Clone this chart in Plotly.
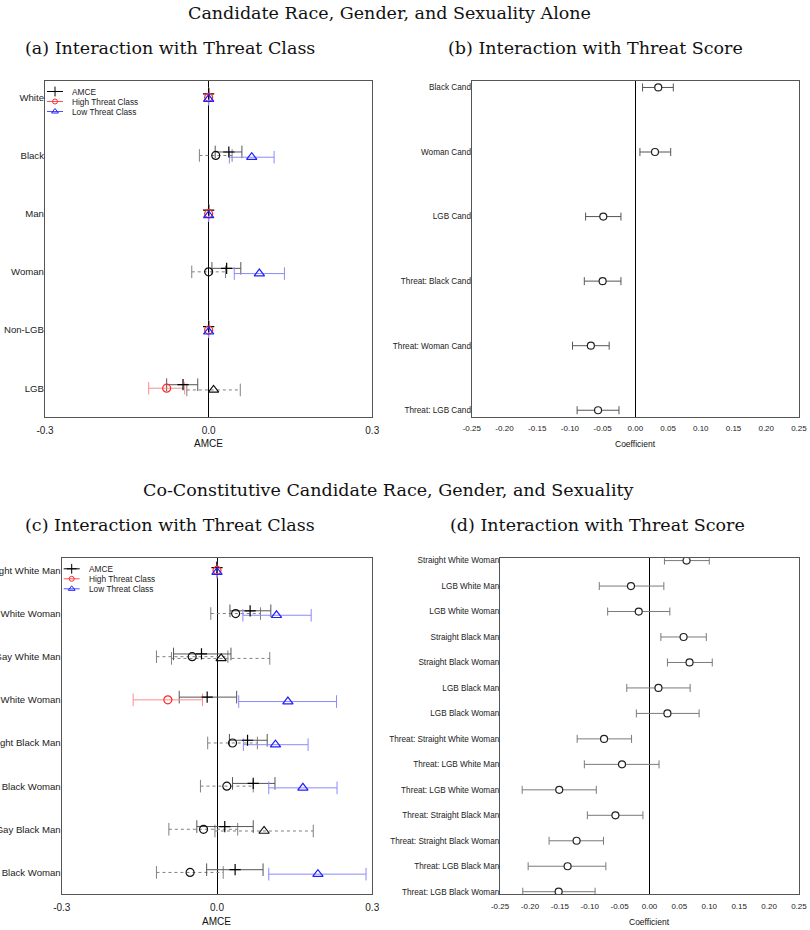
import plotly.graph_objects as go

# ---------------- data ----------------
# Panel (a): Interaction with Threat Class (attributes alone)
cats_a = ["White", "Black", "Man", "Woman", "Non-LGB", "LGB"]
amce_a = [0.0, 0.037, 0.0, 0.033, 0.0, -0.047]
amce_a_lo = [0.0, 0.012, 0.0, 0.006, 0.0, -0.077]
amce_a_hi = [0.0, 0.061, 0.0, 0.059, 0.0, -0.020]
high_a = [0.0, 0.013, 0.0, 0.000, 0.0, -0.077]
high_a_lo = [0.0, -0.017, 0.0, -0.031, 0.0, -0.110]
high_a_hi = [0.0, 0.043, 0.0, 0.031, 0.0, -0.044]
low_a = [0.0, 0.079, 0.0, 0.093, 0.0, 0.009]
low_a_lo = [0.0, 0.038, 0.0, 0.047, 0.0, -0.040]
low_a_hi = [0.0, 0.120, 0.0, 0.139, 0.0, 0.058]

# Panel (b): Interaction with Threat Score (attributes alone)
cats_b = ["Black Cand", "Woman Cand", "LGB Cand",
          "Threat: Black Cand", "Threat: Woman Cand", "Threat: LGB Cand"]
coef_b = [0.035, 0.030, -0.049, -0.050, -0.068, -0.057]
coef_b_lo = [0.011, 0.007, -0.076, -0.078, -0.096, -0.089]
coef_b_hi = [0.058, 0.054, -0.022, -0.022, -0.040, -0.025]

# Panel (c): Interaction with Threat Class (co-constitutive)
cats_c = ["Straight White Man", "Straight White Woman", "Gay White Man",
          "Lesbian White Woman", "Straight Black Man", "Straight Black Woman",
          "Gay Black Man", "Lesbian Black Woman"]
amce_c = [0.0, 0.064, -0.030, -0.019, 0.059, 0.070, 0.015, 0.035]
amce_c_lo = [0.0, 0.025, -0.084, -0.073, 0.024, 0.030, -0.039, -0.020]
amce_c_hi = [0.0, 0.104, 0.027, 0.038, 0.097, 0.112, 0.070, 0.089]
high_c = [0.0, 0.036, -0.048, -0.095, 0.030, 0.019, -0.026, -0.052]
high_c_lo = [0.0, -0.012, -0.117, -0.162, -0.018, -0.032, -0.093, -0.117]
high_c_hi = [0.0, 0.084, 0.021, -0.028, 0.078, 0.070, 0.040, 0.012]
low_c = [0.0, 0.115, 0.008, 0.137, 0.113, 0.166, 0.091, 0.195]
low_c_lo = [0.0, 0.050, -0.088, 0.042, 0.051, 0.100, -0.004, 0.100]
low_c_hi = [0.0, 0.182, 0.102, 0.231, 0.176, 0.232, 0.186, 0.288]

# Panel (d): Interaction with Threat Score (co-constitutive)
cats_d = ["Straight White Woman", "LGB White Man", "LGB White Woman",
          "Straight Black Man", "Straight Black Woman", "LGB Black Man",
          "LGB Black Woman", "Threat: Straight White Woman",
          "Threat: LGB White Man", "Threat: LGB White Woman",
          "Threat: Straight Black Man", "Threat: Straight Black Woman",
          "Threat: LGB Black Man", "Threat: LGB Black Woman"]
coef_d = [0.062, -0.031, -0.018, 0.057, 0.067, 0.015, 0.030,
          -0.076, -0.046, -0.151, -0.057, -0.122, -0.137, -0.152]
coef_d_lo = [0.025, -0.084, -0.070, 0.019, 0.030, -0.038, -0.022,
             -0.121, -0.109, -0.213, -0.104, -0.168, -0.203, -0.212]
coef_d_hi = [0.100, 0.024, 0.034, 0.095, 0.105, 0.068, 0.083,
             -0.030, 0.016, -0.089, -0.011, -0.077, -0.073, -0.091]

class_ticks = [-0.3, 0.0, 0.3]
class_ticktext = ["-0.3", "0.0", "0.3"]
score_ticks = [-0.25, -0.20, -0.15, -0.10, -0.05, 0.0, 0.05, 0.10, 0.15, 0.20, 0.25]

legend_labels = ["AMCE", "High Threat Class", "Low Threat Class"]
title_top = "Candidate Race, Gender, and Sexuality Alone"
title_bottom = "Co-Constitutive Candidate Race, Gender, and Sexuality"
subtitles = ["(a) Interaction with Threat Class", "(b) Interaction with Threat Score",
             "(c) Interaction with Threat Class", "(d) Interaction with Threat Score"]

# ---------------- layout helpers ----------------
W, H = 810, 930
SANS = "Liberation Sans, Arial, sans-serif"
SERIF = "DejaVu Serif, serif"


def dx(a, b):
    return [a / W, b / W]


def dy(top, bottom):
    return [1 - bottom / H, 1 - top / H]


PANEL = {
    "a": dict(x=(45, 372.3), y=(81, 417.3)),
    "b": dict(x=(471.7, 799), y=(81, 416.7)),
    "c": dict(x=(61.7, 372.3), y=(558.3, 894)),
    "d": dict(x=(500, 799), y=(558.3, 894)),
}

fig = go.Figure()

RED_LINE = "#ff8a8a"
RED_MK = "#ff2a2a"
BLUE_LINE = "#8a8aff"
BLUE_MK = "#2020ff"
GRAY_SOLID = "#555555"
GRAY_DASH = "#808080"


def insignificant(lo, hi):
    return lo < 0 < hi


def ci_traces(xa, ya, lo, hi, ys, color, dash, cap):
    xs, yy, cx, cy = [], [], [], []
    for l, h, y in zip(lo, hi, ys):
        xs += [l, h, None]
        yy += [y, y, None]
        cx += [l, h]
        cy += [y, y]
    if not cx:
        return
    fig.add_trace(go.Scatter(x=xs, y=yy, mode="lines", xaxis=xa, yaxis=ya,
                             line=dict(color=color, width=1, dash=dash),
                             hoverinfo="skip", showlegend=False))
    fig.add_trace(go.Scatter(x=cx, y=cy, mode="markers", xaxis=xa, yaxis=ya,
                             marker=dict(symbol="line-ns-open", size=cap, color=color,
                                         line=dict(color=color, width=1)),
                             hoverinfo="skip", showlegend=False))


def class_panel(xa, ya, amce, amce_lo, amce_hi, high, high_lo, high_hi,
                low, low_lo, low_hi, off_amce, off_low):
    n = len(amce)
    pos = list(range(n))
    y_amce = [p + off_amce for p in pos]
    y_high = pos
    y_low = [p + off_low for p in pos]
    sig_h = [i for i in pos if not insignificant(high_lo[i], high_hi[i])]
    ns_h = [i for i in pos if insignificant(high_lo[i], high_hi[i])]
    sig_l = [i for i in pos if not insignificant(low_lo[i], low_hi[i])]
    ns_l = [i for i in pos if insignificant(low_lo[i], low_hi[i])]
    ci_traces(xa, ya, [high_lo[i] for i in ns_h], [high_hi[i] for i in ns_h],
              [y_high[i] for i in ns_h], GRAY_DASH, "3px,3px", 9)
    ci_traces(xa, ya, [low_lo[i] for i in ns_l], [low_hi[i] for i in ns_l],
              [y_low[i] for i in ns_l], GRAY_DASH, "3px,3px", 9)
    # AMCE: always solid
    ci_traces(xa, ya, amce_lo, amce_hi, y_amce, GRAY_SOLID, "solid", 9)
    ci_traces(xa, ya, [high_lo[i] for i in sig_h], [high_hi[i] for i in sig_h],
              [y_high[i] for i in sig_h], RED_LINE, "solid", 9)
    ci_traces(xa, ya, [low_lo[i] for i in sig_l], [low_hi[i] for i in sig_l],
              [y_low[i] for i in sig_l], BLUE_LINE, "solid", 9)
    # markers
    fig.add_trace(go.Scatter(x=amce, y=y_amce, mode="markers", xaxis=xa, yaxis=ya,
                             marker=dict(symbol="cross-thin-open", size=8, color="black",
                                         line=dict(color="black", width=1.2)),
                             showlegend=False))
    hc = [RED_MK if i in sig_h else "#111111" for i in pos]
    lc = [BLUE_MK if i in sig_l else "#111111" for i in pos]
    fig.add_trace(go.Scatter(x=high, y=y_high, mode="markers", xaxis=xa, yaxis=ya,
                             marker=dict(symbol="circle-open", size=8,
                                         color=hc, line=dict(color=hc, width=1.2)),
                             showlegend=False))
    fig.add_trace(go.Scatter(x=low, y=y_low, mode="markers", xaxis=xa, yaxis=ya,
                             marker=dict(symbol="triangle-up-open", size=9,
                                         color=lc, line=dict(color=lc, width=1.2)),
                             showlegend=False))


def score_panel(xa, ya, coef, lo, hi, err_color):
    pos = list(range(len(coef)))
    fig.add_trace(go.Scatter(
        x=coef, y=pos, mode="markers", xaxis=xa, yaxis=ya, showlegend=False,
        marker=dict(symbol="circle", size=7, color="white",
                    line=dict(color="#222222", width=1.2)),
        error_x=dict(type="data", symmetric=False,
                     array=[h - c for h, c in zip(hi, coef)],
                     arrayminus=[c - l for c, l in zip(coef, lo)],
                     color=err_color, thickness=1, width=4)))


class_panel("x", "y", amce_a, amce_a_lo, amce_a_hi, high_a, high_a_lo, high_a_hi,
            low_a, low_a_lo, low_a_hi, -0.06, 0.03)
score_panel("x2", "y2", coef_b, coef_b_lo, coef_b_hi, "#555555")
class_panel("x3", "y3", amce_c, amce_c_lo, amce_c_hi, high_c, high_c_lo, high_c_hi,
            low_c, low_c_lo, low_c_hi, -0.063, 0.04)
score_panel("x4", "y4", coef_d, coef_d_lo, coef_d_hi, "#7a7a7a")

# ---------------- legends (drawn on pixel overlay axes) ----------------
leg_styles = [
    dict(line="black", mk="black", sym="cross-thin-open", size=7),
    dict(line="#ff5050", mk="#ff2a2a", sym="circle-open", size=5),
    dict(line="#5050ff", mk="#2020ff", sym="triangle-up-open", size=6),
]
for xa, ya in (("x5", "y5"), ("x6", "y6")):
    for k, (lab, st) in enumerate(zip(legend_labels, leg_styles)):
        yy = 10.5 + 10 * k
        fig.add_trace(go.Scatter(x=[2, 18], y=[yy, yy], mode="lines", xaxis=xa, yaxis=ya,
                                 line=dict(color=st["line"], width=1),
                                 hoverinfo="skip", showlegend=False))
        fig.add_trace(go.Scatter(x=[10], y=[yy], mode="markers", xaxis=xa, yaxis=ya,
                                 marker=dict(symbol=st["sym"], size=st["size"], color=st["mk"],
                                             line=dict(color=st["mk"], width=1)),
                                 hoverinfo="skip", showlegend=False))
        fig.add_annotation(x=25, y=yy, xref=xa, yref=ya, text=lab, showarrow=False,
                           xanchor="left", yanchor="middle",
                           font=dict(family=SANS, size=8.3, color="#222222"))

# ---------------- axes ----------------
frame = dict(showline=True, mirror=True, linecolor="#555555", linewidth=1.2,
             showgrid=False, ticks="", fixedrange=True, automargin=False)


def xaxis(p, tickvals, ticktext, size, rng, anchor):
    return dict(domain=dx(*PANEL[p]["x"]), range=rng, tickvals=tickvals, ticktext=ticktext,
                zeroline=True, zerolinecolor="black", zerolinewidth=1.3, anchor=anchor,
                ticklabelstandoff=4,
                tickfont=dict(family=SANS, size=size, color="#222222"), **frame)


def yaxis(p, cats, size, rng, anchor):
    return dict(domain=dy(*PANEL[p]["y"]), range=rng, tickvals=list(range(len(cats))),
                ticktext=cats, zeroline=False, anchor=anchor, ticklabelstandoff=-2,
                tickfont=dict(family=SANS, size=size, color="#222222"), **frame)


score_text = ["%.2f" % v for v in score_ticks]
eps = 1e-4
fig.update_layout(
    xaxis=xaxis("a", class_ticks, class_ticktext, 10, [-0.3 - eps, 0.3 + eps], "y"),
    yaxis=yaxis("a", cats_a, 9.6, [len(cats_a) - 0.5, -0.28], "x"),
    xaxis2=xaxis("b", score_ticks, score_text, 8, [-0.25 - eps, 0.25 + eps], "y2"),
    yaxis2=yaxis("b", cats_b, 8.2, [len(cats_b) - 0.9, -0.1], "x2"),
    xaxis3=xaxis("c", class_ticks, class_ticktext, 10, [-0.3 - eps, 0.3 + eps], "y3"),
    yaxis3=yaxis("c", cats_c, 9.6, [len(cats_c) - 0.5, -0.28], "x3"),
    xaxis4=xaxis("d", score_ticks, score_text, 8, [-0.25 - eps, 0.25 + eps], "y4"),
    yaxis4=yaxis("d", cats_d, 8.2, [len(cats_d) - 0.91, -0.09], "x4"),
)
for i, p in ((5, "a"), (6, "c")):
    w = PANEL[p]["x"][1] - PANEL[p]["x"][0]
    h = PANEL[p]["y"][1] - PANEL[p]["y"][0]
    fig.layout["xaxis%d" % i] = dict(domain=dx(*PANEL[p]["x"]), range=[0, w], visible=False,
                                     anchor="y%d" % i, fixedrange=True, automargin=False)
    fig.layout["yaxis%d" % i] = dict(domain=dy(*PANEL[p]["y"]), range=[h, 0], visible=False,
                                     anchor="x%d" % i, fixedrange=True, automargin=False)


# ---------------- titles ----------------
def ann(text, xpx, ypx, family, size, anchor="center"):
    fig.add_annotation(x=xpx / W, y=1 - ypx / H, xref="paper", yref="paper", text=text,
                       showarrow=False, xanchor=anchor, yanchor="middle",
                       font=dict(family=family, size=size, color="#111111"))


ann(title_top, 389, 13, SERIF, 17.5)
ann(title_bottom, 388, 490, SERIF, 17.5)
ann(subtitles[0], 170, 48, SERIF, 17.5)
ann(subtitles[1], 595, 48, SERIF, 17.5)
ann(subtitles[2], 170, 525, SERIF, 17.5)
ann(subtitles[3], 597, 525, SERIF, 17.5)
ann("AMCE", 208.7, 443.5, SANS, 10)
ann("Coefficient", 635.3, 444, SANS, 8.5)
ann("AMCE", 217, 921, SANS, 10)
ann("Coefficient", 649.3, 921.5, SANS, 8.5)

fig.update_layout(width=W, height=H, margin=dict(l=0, r=0, t=0, b=0),
                  paper_bgcolor="white", plot_bgcolor="rgba(0,0,0,0)", showlegend=False)

fig.write_html("out.html")
